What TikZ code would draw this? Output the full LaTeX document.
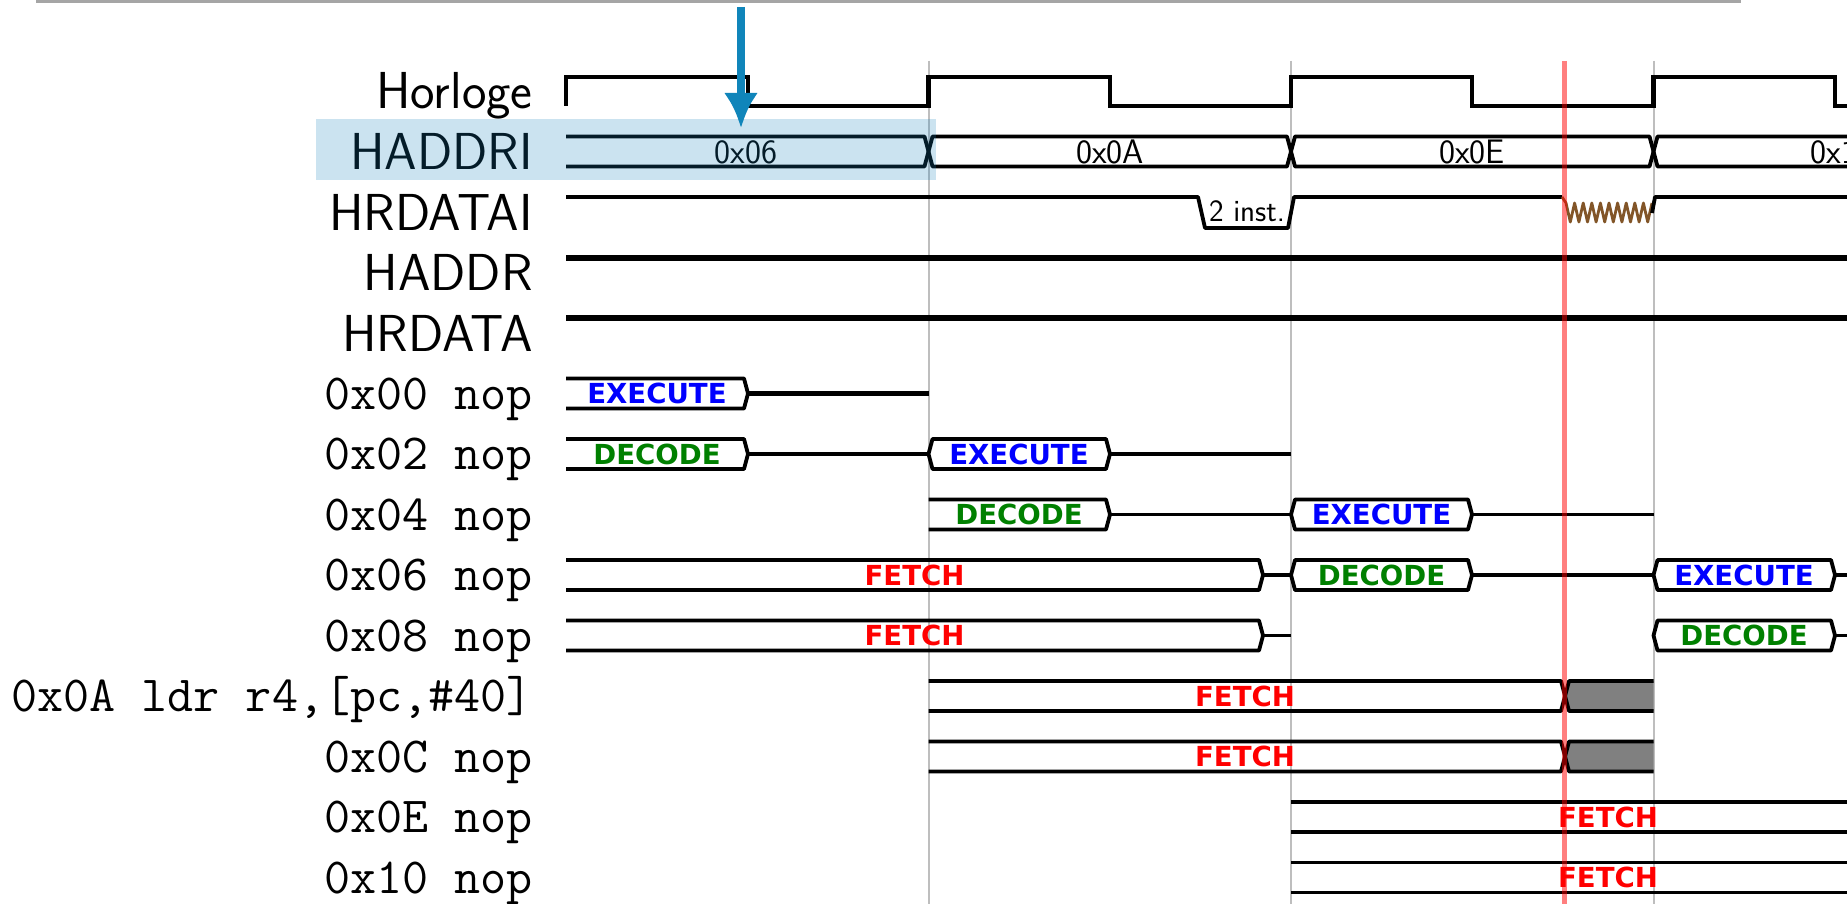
\documentclass[tikz,border=0pt]{standalone}
\usepackage{fontspec}
\newfontfamily\phasefont{DejaVu Sans}
\usetikzlibrary{arrows.meta}
\definecolor{arrowblue}{RGB}{16,133,186}
\definecolor{hlblue}{RGB}{20,130,190}
\definecolor{gridgray}{RGB}{190,190,190}
\definecolor{topgray}{RGB}{165,165,165}
\definecolor{metabrown}{RGB}{130,85,40}
\definecolor{decgreen}{RGB}{0,128,0}
\definecolor{exeblue}{RGB}{0,0,255}
\definecolor{fetred}{RGB}{255,0,0}
\definecolor{busgray}{RGB}{128,128,128}
% bus helpers: #1 start x, #2 end x, #3 centre y
\newcommand\tbclosed[3]{\draw[sig] (#1,#3) -- ({#1+4},{#3-15}) -- ({#2-4},{#3-15}) -- (#2,#3) -- ({#2-4},{#3+15}) -- ({#1+4},{#3+15}) -- cycle;}
\newcommand\tbopenL[3]{\draw[sig] (#1,{#3-15}) -- ({#2-4},{#3-15}) -- (#2,#3) -- ({#2-4},{#3+15}) -- (#1,{#3+15});}
\newcommand\tbopenR[3]{\draw[sig] (#2,{#3-15}) -- ({#1+4},{#3-15}) -- (#1,#3) -- ({#1+4},{#3+15}) -- (#2,{#3+15});}
\newcommand\tbopen[3]{\draw[sig] (#1,{#3-15}) -- (#2,{#3-15}) (#1,{#3+15}) -- (#2,{#3+15});}
\newcommand\tbgrayR[3]{\fill[busgray] (#1,#3) -- ({#1+4},{#3-15}) -- (#2,{#3-15}) -- (#2,{#3+15}) -- ({#1+4},{#3+15}) -- cycle;
  \draw[sig] (#2,{#3-15}) -- ({#1+4},{#3-15}) -- (#1,#3) -- ({#1+4},{#3+15}) -- (#2,{#3+15});}
\newcommand\tbmid[3]{\draw[sig] (#1,#3) -- (#2,#3);}
\begin{document}
\begin{tikzpicture}[x=0.5pt,y=-0.5pt,
  sig/.style={line width=1.9pt, line join=round},
  thicksig/.style={line width=2.6pt},
  clk/.style={line width=2.3pt, line join=miter},
  siglabel/.style={anchor=base east, inner sep=0pt, font=\fontsize{26}{30}\selectfont\sffamily},
  instlabel/.style={anchor=base east, inner sep=0pt, font=\fontsize{25.3}{28}\selectfont\ttfamily},
  buslabel/.style={inner sep=0pt, font=\fontsize{17}{20}\selectfont\sffamily},
  smallbuslabel/.style={inner sep=0pt, font=\fontsize{15.5}{18}\selectfont\sffamily},
  phase/.style={inner sep=0pt, font=\fontsize{13.8}{16}\selectfont\phasefont\bfseries},
  exe/.style={phase, text=exeblue},
  dec/.style={phase, text=decgreen},
  fet/.style={phase, text=fetred}]
\useasboundingbox (0,0) rectangle (1847,904);
\clip (0,0) rectangle (1847,904);
\fill[white] (0,0) rectangle (1847,904);

% grid lines
\foreach \gx in {928.5,1291,1653.5} \draw[gridgray, line width=1pt] (\gx,61) -- (\gx,910);
% top rule
\draw[topgray, line width=1.5pt] (36,1.5) -- (1741,1.5);

% signal names
\node[siglabel] (lclk) at (533,109) {Horloge};
\node[siglabel] (lhaddri) at (533,169.5) {HADDRI};
\node[siglabel] (lhrdatai) at (533,230) {HRDATAI};
\node[siglabel] (lhaddr) at (533,290.5) {HADDR};
\node[siglabel] (lhrdata) at (533,351) {HRDATA};
\node[instlabel] (l00) at (533,409) {0x00 nop};
\node[instlabel] (l02) at (533,469.5) {0x02 nop};
\node[instlabel] (l04) at (533,530) {0x04 nop};
\node[instlabel] (l06) at (533,590.5) {0x06 nop};
\node[instlabel] (l08) at (533,651) {0x08 nop};
\node[instlabel] (l0a) at (533,711.5) {0x0A ldr r4,[pc,\#40]};
\node[instlabel] (l0c) at (533,772) {0x0C nop};
\node[instlabel] (l0e) at (533,832.5) {0x0E nop};
\node[instlabel] (l10) at (533,893) {0x10 nop};

% clock
\draw[clk] (566,106) -- (566,77) -- (748,77) -- (748,106) -- (928.5,106) -- (928.5,77) -- (1110,77) -- (1110,106) -- (1291,106) -- (1291,77) -- (1472,77) -- (1472,106) -- (1653.5,106) -- (1653.5,77) -- (1835,77) -- (1835,106) -- (1870,106);

% HADDRI
\tbopenL{566}{928.5}{151.5}
\tbclosed{928.5}{1291}{151.5}
\tbclosed{1291}{1653.5}{151.5}
\tbopenR{1653.5}{1870}{151.5}
\node[buslabel] (a06) at (746,152) {0x06};
\node[buslabel] (a0a) at (1110,152) {0x0A};
\node[buslabel] (a0e) at (1472,152) {0x0E};
\node[buslabel] (a10) at (1842,152) {0x10};

% HRDATAI
\draw[sig] (566,197) -- (1198,197) -- (1205,228) -- (1288,228) -- (1294,197) -- (1562,197);
\node[smallbuslabel] (d2) at (1247,211.5) {2 inst.};
\draw[metabrown, line width=1.4pt, line join=round] (1562,197) -- (1566,203)
  \foreach \i in {1,...,20} { -- ({1566+4.3*\i},{203+19*mod(\i,2)}) };
\draw[sig] (1652,213) -- (1655,197) -- (1870,197);

% HADDR / HRDATA
\draw[thicksig] (566,258) -- (1870,258);
\draw[thicksig] (566,318) -- (1870,318);

% 0x00
\tbopenL{566}{748}{393.5}
\draw[thicksig] (748,393.5) -- (928.5,393.5);
\node[exe] (ex00) at (657,393.5) {EXECUTE};
% 0x02
\tbopenL{566}{748}{454}
\tbmid{748}{928.5}{454}
\tbclosed{928.5}{1110}{454}
\tbmid{1110}{1291}{454}
\node[dec] (de02) at (657,454) {DECODE};
\node[exe] (ex02) at (1019,454) {EXECUTE};
% 0x04
\tbopenL{928.5}{1110}{514.5}
\tbmid{1110}{1291}{514.5}
\tbclosed{1291}{1472}{514.5}
\tbmid{1472}{1653.5}{514.5}
\node[dec] (de04) at (1019,514.5) {DECODE};
\node[exe] (ex04) at (1381.5,514.5) {EXECUTE};
% 0x06
\tbopenL{566}{1263}{575}
\tbmid{1263}{1291}{575}
\tbclosed{1291}{1472}{575}
\tbmid{1472}{1653.5}{575}
\tbclosed{1653.5}{1835}{575}
\tbmid{1835}{1870}{575}
\node[fet] (fe06) at (914.5,575) {FETCH};
\node[dec] (de06) at (1381.5,575) {DECODE};
\node[exe] (ex06) at (1744,575) {EXECUTE};
% 0x08
\tbopenL{566}{1263}{635.5}
\tbmid{1263}{1291}{635.5}
\tbclosed{1653.5}{1835}{635.5}
\tbmid{1835}{1870}{635.5}
\node[fet] (fe08) at (914.5,635.5) {FETCH};
\node[dec] (de08) at (1744,635.5) {DECODE};
% 0x0A
\tbopenL{928.5}{1565}{696}
\tbgrayR{1565}{1653.5}{696}
\node[fet] (fe0a) at (1245,696) {FETCH};
% 0x0C
\tbopenL{928.5}{1565}{756.5}
\tbgrayR{1565}{1653.5}{756.5}
\node[fet] (fe0c) at (1245,756.5) {FETCH};
% 0x0E
\tbopen{1291}{1870}{817}
\node[fet] (fe0e) at (1608,817) {FETCH};
% 0x10
\tbopen{1291}{1870}{877.5}
\node[fet] (fe10) at (1608,877.5) {FETCH};

% red marker
\draw[fetred, opacity=0.5, line width=2.5pt] (1564,61) -- (1564,910);
% highlight
\fill[hlblue, opacity=0.22] (316,119) rectangle (936,180);
% arrow
\coordinate (arrtop) at (741,7);
\coordinate (arrtip) at (741,128);
\draw[arrowblue, line width=3.8pt, -{Latex[length=17.5pt,width=17pt]}] (arrtop) -- (arrtip);
\end{tikzpicture}
\end{document}
